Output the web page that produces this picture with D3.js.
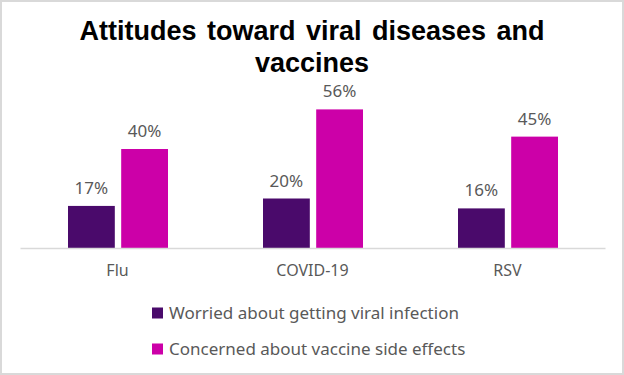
<!DOCTYPE html>
<html>
<head>
<meta charset="utf-8">
<script src="https://cdn.jsdelivr.net/npm/d3@7"></script>
<style>
  body { margin: 0; background: #fff; }
  svg { display: block; }
</style>
</head>
<body>
<svg width="624" height="375"></svg>
<script>
const categories = ['Flu', 'COVID-19', 'RSV'];
const seriesNames = ['Worried about getting viral infection', 'Concerned about vaccine side effects'];
const worried = [17, 20, 16];
const concerned = [40, 56, 45];
const titleLines = ['Attitudes toward viral diseases and', 'vaccines'];

const colors = ['#4a0a6b', '#cc00a8'];
const labelFont = '"Noto Sans", "Open Sans", sans-serif';

const svg = d3.select('svg');
const W = 624, H = 375;

svg.append('rect')
    .attr('x', 1).attr('y', 1)
    .attr('width', W - 2).attr('height', H - 2)
    .attr('fill', '#fff')
    .attr('stroke', '#d9d9d9')
    .attr('stroke-width', 2);

const data = categories.map((c, i) => ({ cat: c, values: [worried[i], concerned[i]] }));

const x = d3.scaleBand().domain(categories).range([20, 605]);
const x1 = d3.scaleBand().domain([0, 1]).range([48, 148]).paddingInner(0.12);
const y = d3.scaleLinear().domain([0, 60]).range([248, 248 - 60 * 2.475]);

// title
svg.append('text')
    .attr('x', W / 2)
    .attr('text-anchor', 'middle')
    .attr('font-family', '"Liberation Sans", Arial, sans-serif')
    .attr('font-weight', 'bold')
    .attr('font-size', 27)
    .attr('fill', '#000')
    .selectAll('tspan')
    .data(titleLines)
    .join('tspan')
        .attr('x', W / 2)
        .attr('y', (d, i) => 40 + i * 32)
        .attr('word-spacing', 3)
        .text(d => d);

const groups = svg.append('g')
    .selectAll('g')
    .data(data)
    .join('g')
        .attr('transform', d => `translate(${x(d.cat)},0)`);

groups.selectAll('rect')
    .data(d => d.values.map((v, k) => ({ v, k })))
    .join('rect')
        .attr('x', d => x1(d.k))
        .attr('y', d => y(d.v))
        .attr('width', x1.bandwidth())
        .attr('height', d => y(0) - y(d.v))
        .attr('fill', d => colors[d.k]);

groups.selectAll('text.val')
    .data(d => d.values.map((v, k) => ({ v, k })))
    .join('text')
        .attr('class', 'val')
        .attr('x', d => x1(d.k) + x1.bandwidth() / 2)
        .attr('y', d => y(d.v) - 12)
        .attr('text-anchor', 'middle')
        .attr('font-family', labelFont)
        .attr('font-size', 17)
        .attr('fill', '#595959')
        .text(d => d.v + '%');

// axis
const axis = svg.append('g')
    .attr('transform', `translate(0,${y(0)})`)
    .call(d3.axisBottom(x).tickSize(0).tickPadding(17));
axis.select('.domain').attr('stroke', '#d9d9d9').attr('stroke-width', 1.5);
axis.selectAll('text')
    .attr('font-family', labelFont)
    .attr('font-size', 16)
    .attr('fill', '#595959');

// legend
const legend = svg.append('g')
    .selectAll('g')
    .data(seriesNames)
    .join('g')
        .attr('transform', (d, i) => `translate(152,${313 + i * 36})`);
legend.append('rect')
    .attr('x', 0).attr('y', -5.5)
    .attr('width', 11).attr('height', 11)
    .attr('fill', (d, i) => colors[i]);
legend.append('text')
    .attr('x', 17)
    .attr('y', 6)
    .attr('font-family', labelFont)
    .attr('font-size', 17)
    .attr('fill', '#595959')
    .text(d => d);
</script>
</body>
</html>
